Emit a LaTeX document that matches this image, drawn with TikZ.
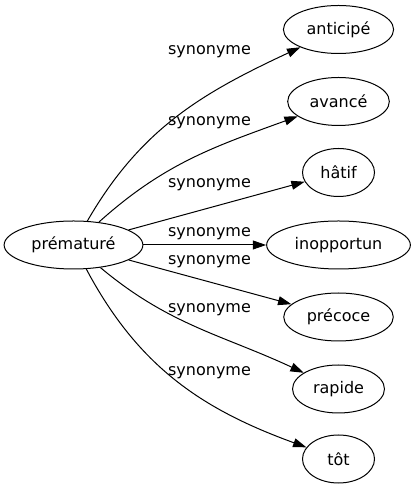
\documentclass[tikz,border=0pt]{standalone}
\usepackage{fontspec}
\setmainfont{DejaVu Sans}
\usetikzlibrary{arrows.meta,shapes.geometric}
\tikzset{
  word/.style={shape=ellipse,draw,line width=0.75pt,minimum width=54pt,minimum height=36pt,inner xsep=5.25pt,inner ysep=2pt},
  rel/.style={inner sep=0pt},
}
\begin{document}
\begin{tikzpicture}[x=0.75pt,y=0.75pt,font=\fontsize{12}{14}\selectfont]
\useasboundingbox (0,0) rectangle (415,491);
\node(pre) at (73.5,246)[word]    {prématuré};
\node(ant) at (338.5,461.5)[word] {anticipé};
\node(ava) at (338.5,389.5)[word] {avancé};
\node(hat) at (338.5,318.5)[word] {hâtif};
\node(ino) at (338.5,246)[word]   {inopportun};
\node(prc) at (338.5,174)[word]   {précoce};
\node(rap) at (338.5,102)[word]   {rapide};
\node(tot) at (338.5,32)[word]    {tôt};

\node(l1) at (209.5,439)[rel] {synonyme};
\node(l2) at (209.5,368)[rel] {synonyme};
\node(l3) at (209.5,306)[rel] {synonyme};
\node(l4) at (209.5,257)[rel] {synonyme};
\node(l5) at (209.5,229)[rel] {synonyme};
\node(l6) at (209.5,181)[rel] {synonyme};
\node(l7) at (209.5,118)[rel] {synonyme};

\path [-{Triangle[length=10pt,width=6.7pt]},line width=0.75pt]
  (pre)      edge[out=60,in=205]    (ant)
  (pre)      edge[out=42,in=200]    (ava)
  (pre)      edge                   (hat)
  (pre)      edge                   (ino)
  (pre)      edge                   (prc)
  (pre)      edge[out=-40,in=155]   (rap)
  (pre)      edge[out=-62,in=160]   (tot);
\end{tikzpicture}
\end{document}
